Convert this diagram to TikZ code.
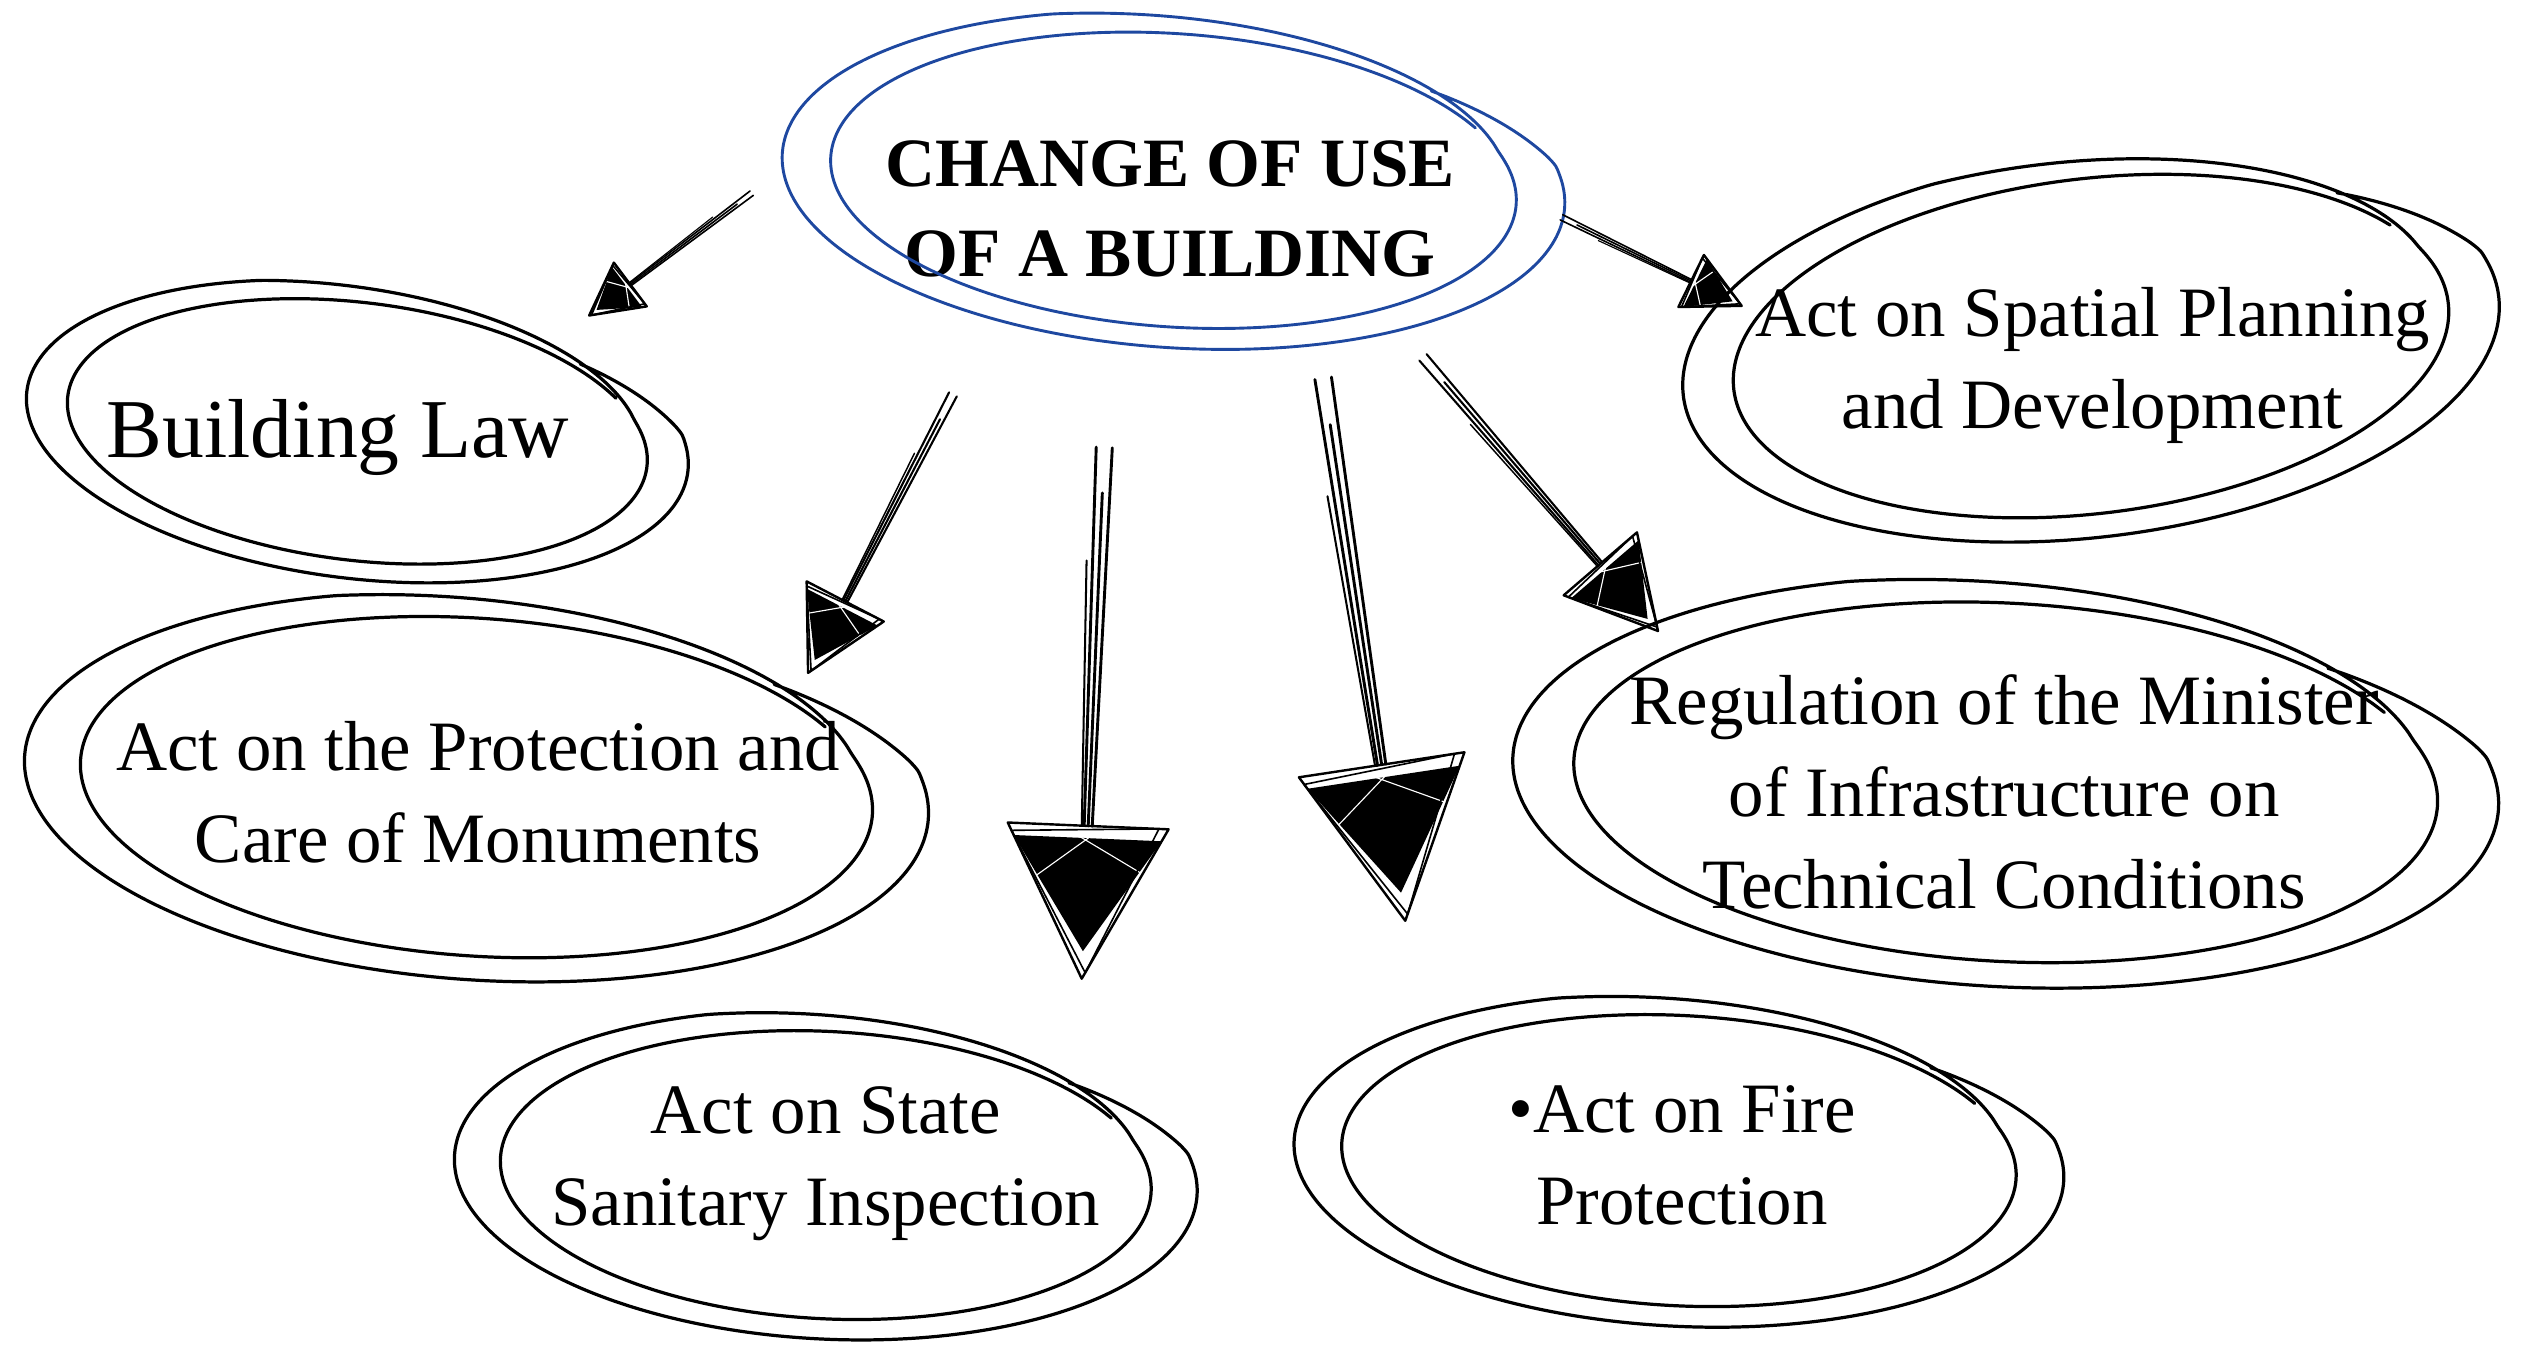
\documentclass[tikz,border=0pt]{standalone}
\usepackage{fontspec}
\setmainfont{Liberation Serif}
\usetikzlibrary{calc}
\definecolor{ovalblue}{RGB}{30,72,160}
\tikzset{
  txt/.style={align=center, inner sep=0pt, font=\fontsize{44}{57}\selectfont},
  ttl/.style={align=center, inner sep=0pt, font=\bfseries\fontsize{43}{56}\selectfont},
  bigtxt/.style={align=center, inner sep=0pt, font=\fontsize{52}{60}\selectfont},
  ovalline/.style={line width=2pt, line cap=round, line join=round},
  declare function={ovr(\t)=1.05-0.1*max(0,((\t)-15)/30)-0.13*min(1,max(0,(-250-(\t))/90));}
}
\newcommand\sketchoval[8][black]{%
  \begin{scope}[shift={($(#2.center)+(#3,#4)$)}, rotate=#7, xscale=#5, yscale=-#6]
    \draw[ovalline, draw=#1, line width=#8] plot[variable=\t, domain=45:-690, samples=240, smooth] ({ovr(\t)*cos(\t)}, {ovr(\t)*sin(\t)});
  \end{scope}}
\newcommand\sketcharrow[5]{%
  \coordinate (hb) at ($(#2)!#3pt!(#1)$);
  \coordinate (hl) at ($(hb)!#4pt!90:(#2)$);
  \coordinate (hr) at ($(hb)!#4pt!-90:(#2)$);
  \draw[line width=#5, line cap=round] ($(#1)!0.1*#4pt!90:(#2)$) -- ($(hb)!0.05*#4pt!90:(#2)$);
  \draw[line width=#5, line cap=round] ($(#1)!0.1*#4pt!-90:(#2)$) -- ($(hb)!0.05*#4pt!-90:(#2)$);
  \draw[line width=#5, line cap=round] ($(#1)!0.12!(hb)$) -- (hb);
  \draw[line width=0.7*#5, line cap=round] ($($(#1)!0.3!(hb)$)!0.16*#4pt!-90:(#2)$) -- ($(hb)!0.08*#4pt!-90:(#2)$);
  \fill ($(#2)!0.18!(hb)$) -- ($(hl)!0.08!(#2)$) -- ($(hr)!0.08!(#2)$) -- cycle;
  \draw[white, line width=0.7pt] ($(hl)!0.3!(#2)$) -- ($(hb)!0.35!(hr)$) ($(hr)!0.35!(#2)$) -- ($(hb)!0.2!(hl)$);
  \draw[line width=1.5pt, line join=round] (#2) -- (hl) -- (hr) -- cycle;
  \draw[line width=1pt, line join=round] ($(#2)!0.04!(hl)$) -- ($(hl)!0.06!(hr)$) -- ($(hr)!0.05!(#2)$) -- cycle;
}
\begin{document}
\begin{tikzpicture}[x=1pt, y=-1pt]
\useasboundingbox (0,0) rectangle (1568,847.4);
\fill[white] (0,0) rectangle (1568,847.4);

% nodes
\node[ttl] (title) at (727,130) {CHANGE OF USE\\OF A BUILDING};
\node[bigtxt] (law) at (210,272) {Building Law};
\node[txt] (mon) at (297,492) {Act on the Protection and\\Care of Monuments};
\node[txt] (san) at (513,723) {Act on State\\Sanitary Inspection};
\node[txt] (fire) at (1045,718) {\textbullet Act on Fire\\Protection};
\node[txt] (reg) at (1245,492) {Regulation of the Minister\\of Infrastructure on\\Technical Conditions};
\node[txt] (spa) at (1300,227) {Act on Spatial Planning\\and Development};

% ovals
\sketchoval[ovalblue]{title}{2}{-18}{232}{99}{-4}{1.8pt}
\sketchoval{law}{12}{-4}{197}{87}{-7}{2pt}
\sketchoval{mon}{-1}{-3}{268}{114}{-4}{2pt}
\sketchoval{san}{0}{7}{220}{97}{-3}{2pt}
\sketchoval{fire}{-2}{3}{228}{98}{-3}{2pt}
\sketchoval{reg}{1}{-6}{292}{121}{-3}{2pt}
\sketchoval{spa}{-1}{-12}{243}{113}{7}{2pt}

% arrow ends
\coordinate (a1s) at (467,120); \coordinate (a1e) at (366,196);
\coordinate (a2s) at (592,245); \coordinate (a2e) at (502,418);
\coordinate (a3s) at (686,278); \coordinate (a3e) at (672,608);
\coordinate (a4s) at (822,235); \coordinate (a4e) at (873,572);
\coordinate (a5s) at (884,222); \coordinate (a5e) at (1030,392);
\coordinate (a6s) at (970,135); \coordinate (a6e) at (1082,190);

\sketcharrow{a1s}{a1e}{32}{17}{1pt}
\sketcharrow{a2s}{a2e}{50}{27}{1.3pt}
\sketcharrow{a3s}{a3e}{95}{50}{1.8pt}
\sketcharrow{a4s}{a4e}{98}{52}{1.8pt}
\sketcharrow{a5s}{a5e}{55}{30}{1.3pt}
\sketcharrow{a6s}{a6e}{35}{18}{1pt}
\end{tikzpicture}
\end{document}
